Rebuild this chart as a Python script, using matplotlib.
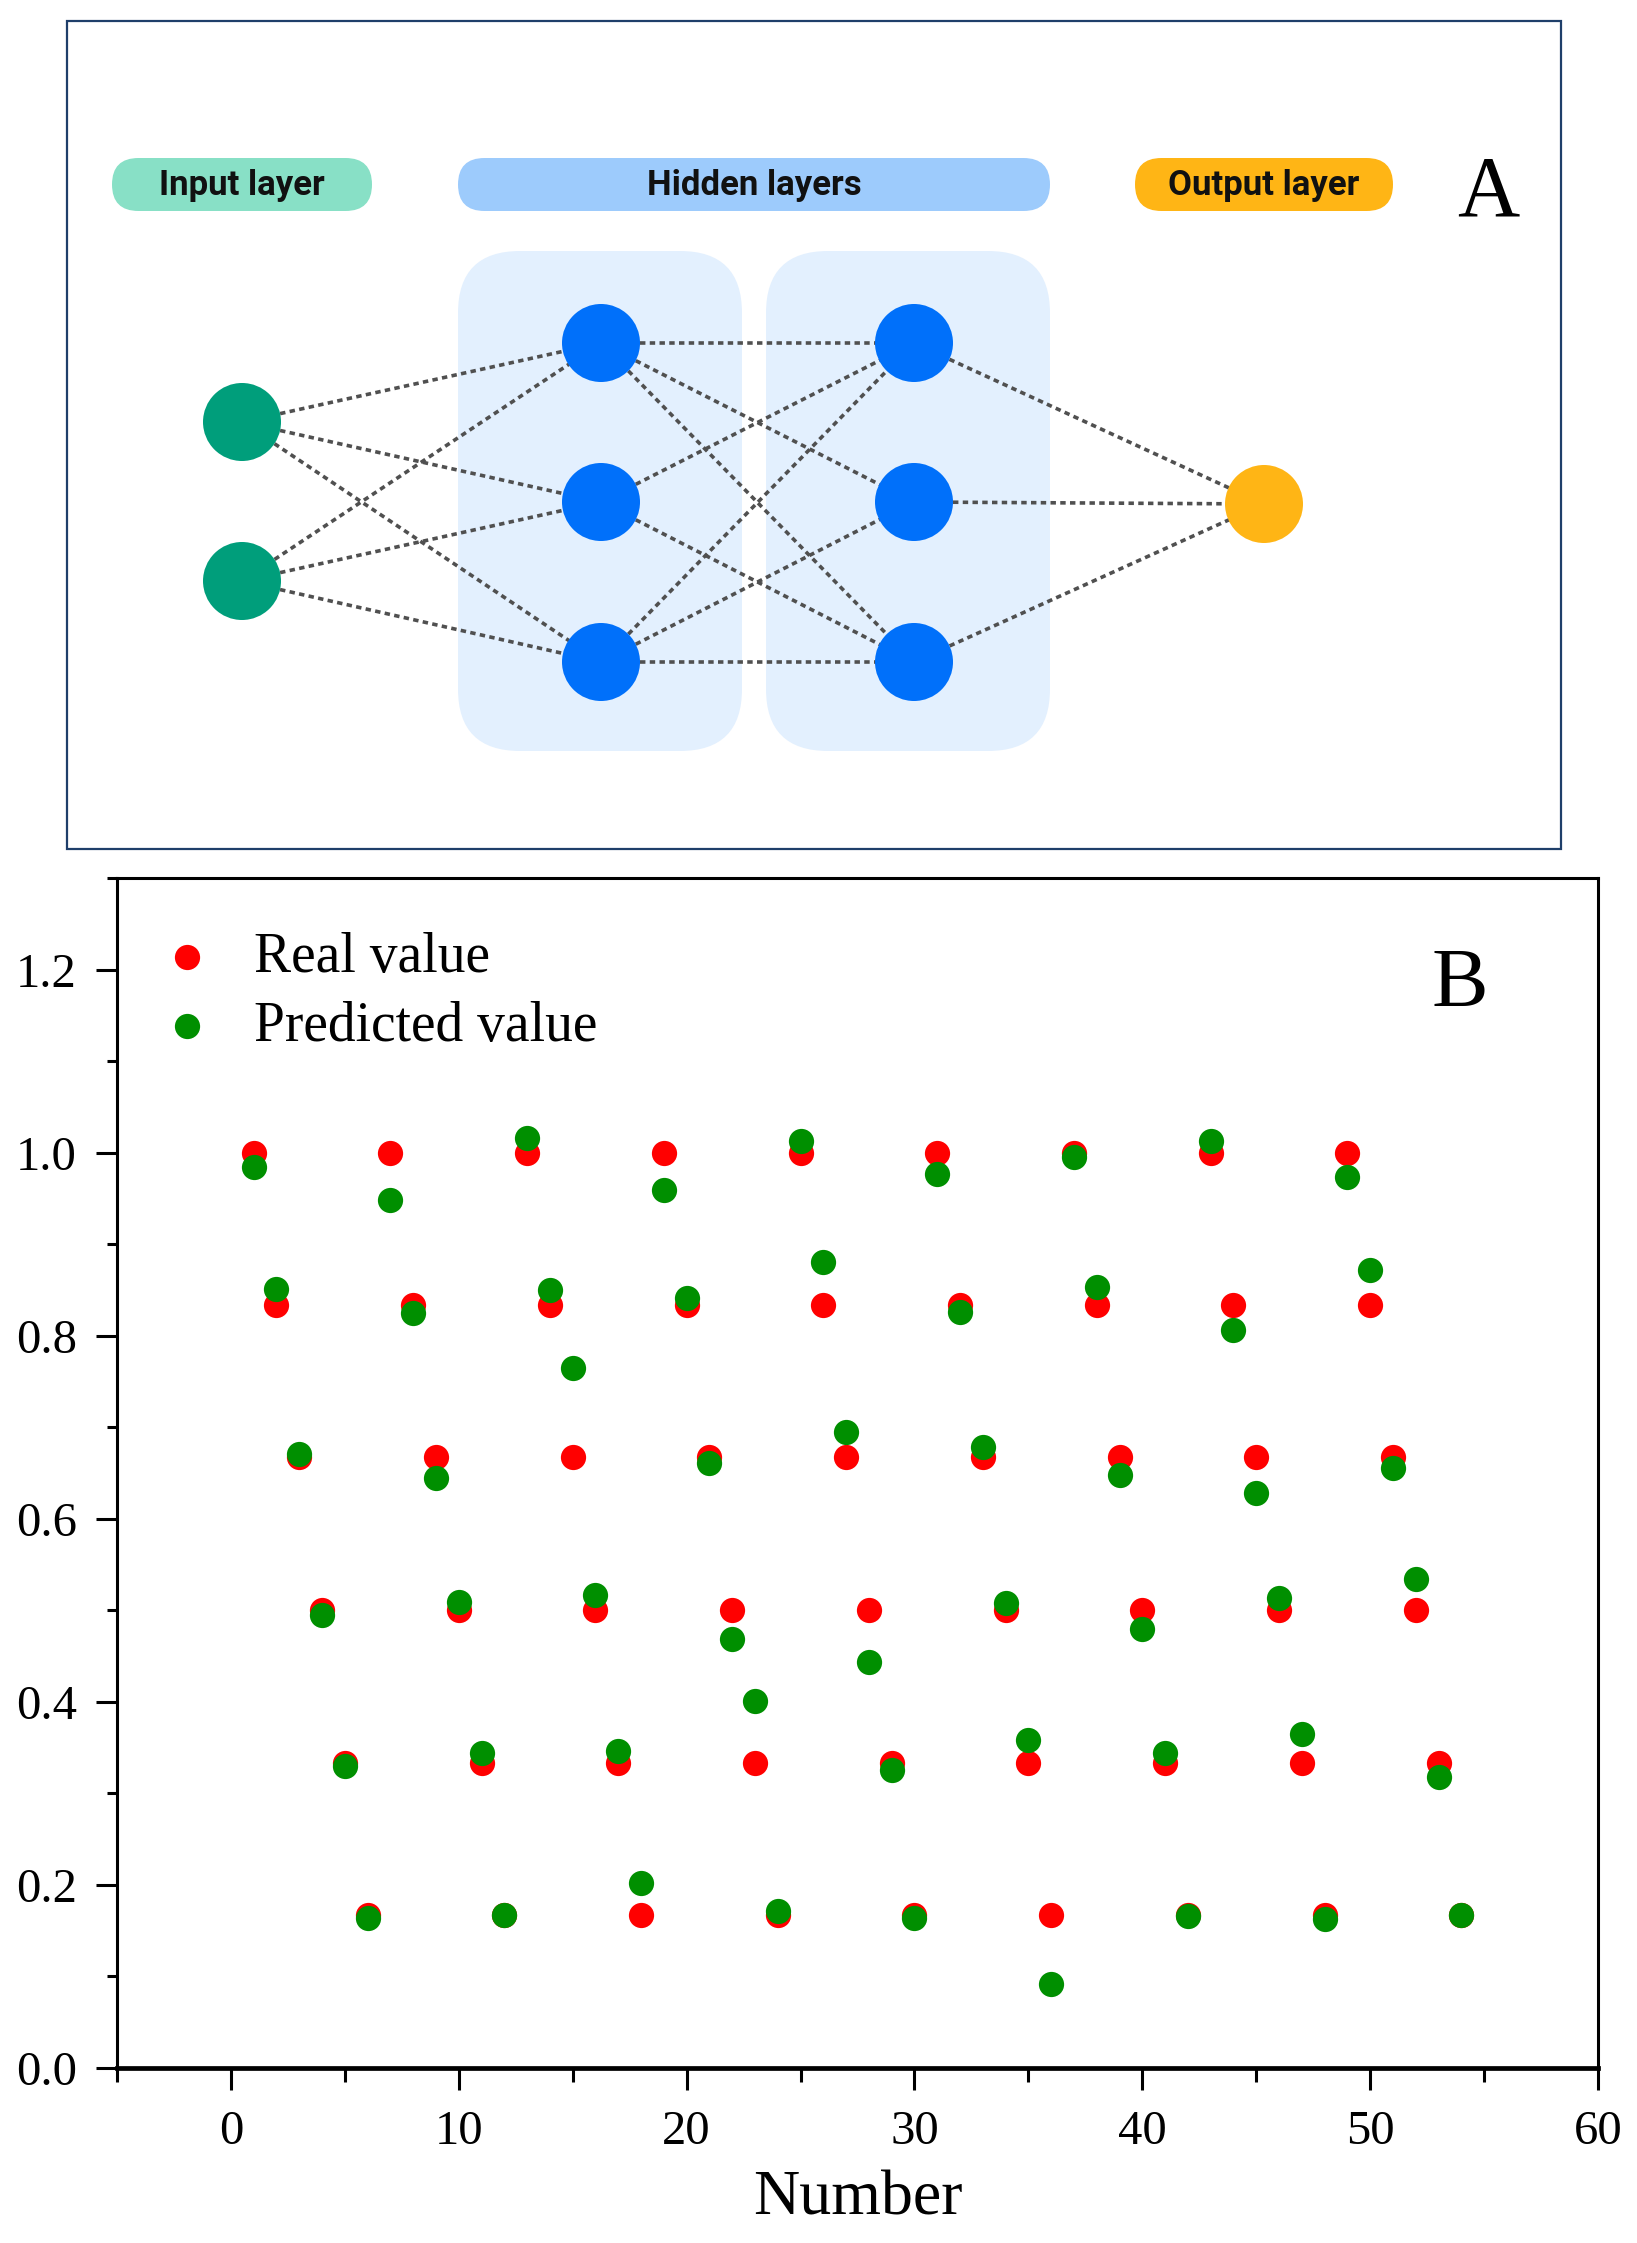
import matplotlib
matplotlib.use("Agg")
import matplotlib.pyplot as plt
from matplotlib.patches import FancyBboxPatch, Circle, Rectangle
from matplotlib.ticker import MultipleLocator, FormatStrFormatter

plt.rcParams["font.family"] = ["Liberation Serif", "DejaVu Serif"]

# ---------------- data ----------------
sample_number = list(range(1, 55))
real_value = [
    1.000, 0.833, 0.667, 0.500, 0.333, 0.167,
    1.000, 0.833, 0.667, 0.500, 0.333, 0.167,
    1.000, 0.833, 0.667, 0.500, 0.333, 0.167,
    1.000, 0.833, 0.667, 0.500, 0.333, 0.167,
    1.000, 0.833, 0.667, 0.500, 0.333, 0.167,
    1.000, 0.833, 0.667, 0.500, 0.333, 0.167,
    1.000, 0.833, 0.667, 0.500, 0.333, 0.167,
    1.000, 0.833, 0.667, 0.500, 0.333, 0.167,
    1.000, 0.833, 0.667, 0.500, 0.333, 0.167,
]
predicted_value = [
    0.984, 0.851, 0.671, 0.495, 0.330, 0.164,
    0.948, 0.825, 0.645, 0.509, 0.344, 0.167,
    1.016, 0.850, 0.765, 0.517, 0.346, 0.202,
    0.959, 0.841, 0.661, 0.469, 0.401, 0.172,
    1.013, 0.880, 0.695, 0.443, 0.326, 0.164,
    0.977, 0.826, 0.678, 0.508, 0.358, 0.092,
    0.995, 0.853, 0.648, 0.480, 0.344, 0.166,
    1.013, 0.806, 0.628, 0.513, 0.365, 0.163,
    0.973, 0.872, 0.656, 0.534, 0.318, 0.167,
]
series_labels = ["Real value", "Predicted value"]
x_label = "Number"
panel_labels = ["A", "B"]

# network diagram content
pill_labels = ["Input layer", "Hidden layers", "Output layer"]
layer_sizes = [2, 3, 3, 1]
# connections absent from the drawing: (layer, node) -> (layer, node)
missing_links = [((1, 1), (2, 1))]

# ---------------- figure ----------------
W, H = 1637, 2243
fig = plt.figure(figsize=(W / 100, H / 100), dpi=100)
fig.patch.set_facecolor("white")

# ---------- Panel A: network diagram (pixel coordinates) ----------
axA = fig.add_axes([0, 0, 1, 1])
axA.set_xlim(0, W)
axA.set_ylim(H, 0)
axA.axis("off")

axA.add_patch(Rectangle((67, 21), 1494, 828, fill=False,
                        edgecolor="#1f3f6a", linewidth=1.6, zorder=1))

pill_geom = [(112, 372, "#88e0c6"), (458, 1050, "#9dcbfc"), (1135, 1393, "#ffb515")]
py0, py1 = 158, 211
for (x0, x1, col), lab in zip(pill_geom, pill_labels):
    h = py1 - py0
    axA.add_patch(FancyBboxPatch((x0, py0), x1 - x0, h,
                                 boxstyle=f"round,pad=0,rounding_size={h/2}",
                                 facecolor=col, edgecolor="none", zorder=2))
    axA.text((x0 + x1) / 2, (py0 + py1) / 2 + 1, lab, ha="center", va="center",
             fontsize=25, fontweight="bold", family=["Roboto", "DejaVu Sans"],
             color="#111111", zorder=3)

for x0, x1 in [(458, 742), (766, 1050)]:
    axA.add_patch(FancyBboxPatch((x0, 251), x1 - x0, 500,
                                 boxstyle="round,pad=0,rounding_size=62",
                                 facecolor="#e3f0fe", edgecolor="none", zorder=1))

layer_x = [242, 601, 914, 1264]
layer_y = {2: [422, 581], 3: [343, 502, 662], 1: [504]}
node_cols = ["#009e7b", "#0070fa", "#0070fa", "#ffb515"]
node_r = 39

positions = []
for lx, n in zip(layer_x, layer_sizes):
    positions.append([(lx, yy) for yy in layer_y[n]])

for i in range(len(positions) - 1):
    for a, (xa, ya) in enumerate(positions[i]):
        for b, (xb, yb) in enumerate(positions[i + 1]):
            if ((i, a), (i + 1, b)) in missing_links:
                continue
            axA.plot([xa, xb], [ya, yb], color="#505050", linewidth=2.6,
                     linestyle=(0, (1.5, 1.2)), zorder=2, solid_capstyle="butt")

for pts, col in zip(positions, node_cols):
    for (xx, yy) in pts:
        axA.add_patch(Circle((xx, yy), node_r, facecolor=col, edgecolor="none", zorder=4))

axA.text(1488, 216, panel_labels[0], ha="center", va="baseline", fontsize=62,
         color="black", zorder=5)

# ---------- Panel B: scatter ----------
L, R, T, B = 117, 1598, 878, 2068
axB = fig.add_axes([L / W, 1 - B / H, (R - L) / W, (B - T) / H])

axB.scatter(sample_number, real_value, s=330, c="#ff0000", linewidths=0,
            label=series_labels[0], zorder=3)
axB.scatter(sample_number, predicted_value, s=330, c="#008f00", linewidths=0,
            label=series_labels[1], zorder=4)

axB.set_xlim(-5, 60)
axB.set_ylim(0, 1.3)
axB.xaxis.set_major_locator(MultipleLocator(10))
axB.xaxis.set_minor_locator(MultipleLocator(5))
axB.yaxis.set_major_locator(MultipleLocator(0.2))
axB.yaxis.set_minor_locator(MultipleLocator(0.1))
axB.yaxis.set_major_formatter(FormatStrFormatter("%.1f"))

for sp in axB.spines.values():
    sp.set_linewidth(2.2)
axB.spines["bottom"].set_linewidth(3.4)

axB.tick_params(which="both", direction="out", top=False, right=False, width=2.2,
                color="black")
axB.tick_params(axis="x", which="major", length=16, pad=14, labelsize=35)
axB.tick_params(axis="x", which="minor", length=10)
axB.tick_params(axis="y", which="major", length=15, pad=14, labelsize=35)
axB.tick_params(axis="y", which="minor", length=7)

axB.set_xlabel(x_label, fontsize=46, labelpad=12)

leg = axB.legend(loc="upper left", bbox_to_anchor=((165 - L) / (R - L), (B - 932) / (B - T)),
                 frameon=False, prop={"size": 40},
                 handlelength=0.8, handletextpad=0.8, labelspacing=0.3,
                 borderpad=0, borderaxespad=0, scatterpoints=1)

axB.text((1460 - L) / (R - L), (B - 1007) / (B - T), panel_labels[1],
         transform=axB.transAxes, ha="center", va="baseline", fontsize=61,
         color="black")

fig.savefig("out.png", dpi=100, facecolor="white")
